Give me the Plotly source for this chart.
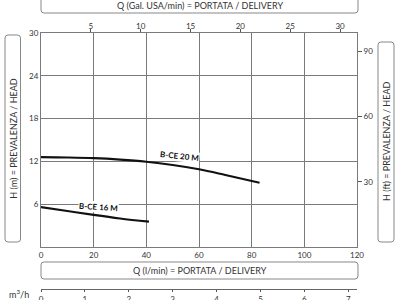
import plotly.graph_objects as go

# ---- data ----
q20 = [0, 10, 20, 30, 40, 50, 60, 70, 83]
h20 = [12.6, 12.55, 12.45, 12.25, 11.95, 11.5, 10.9, 10.1, 9.0]
q16 = [0, 10, 20, 30, 41]
h16 = [5.6, 5.05, 4.5, 4.0, 3.55]
lab20 = "B-CE 20 M"
lab16 = "B-CE 16 M"

x_ticks = [0, 20, 40, 60, 80, 100, 120]
y_ticks = [6, 12, 18, 24, 30]
gal_ticks = [5, 10, 15, 20, 25, 30]
ft_ticks = [30, 60, 90]
m3h_ticks = [0, 1, 2, 3, 4, 5, 6, 7]

# ---- layout geometry (pixels) ----
W, H = 400, 300
L, R, T, B = 41, 43, 33, 11
pw = W - L - R
ph = H - T - B
def px(x): return (x - L) / pw
def py(y): return (H - B - y) / ph
YBOT = 247
ydom0 = py(YBOT)

FONT = "Lato"
GRID = "#7a7a7a"
TXT = "#333333"

def rbox(x0, y0, x1, y1, r=3):
    pts = [
        ("M", [(x0 + r, y0)]),
        ("L", [(x1 - r, y0)]),
        ("Q", [(x1, y0), (x1, y0 + r)]),
        ("L", [(x1, y1 - r)]),
        ("Q", [(x1, y1), (x1 - r, y1)]),
        ("L", [(x0 + r, y1)]),
        ("Q", [(x0, y1), (x0, y1 - r)]),
        ("L", [(x0, y0 + r)]),
        ("Q", [(x0, y0), (x0 + r, y0)]),
    ]
    s = ""
    for cmd, ps in pts:
        s += cmd + " ".join(f"{px(a):.5f},{py(b):.5f}" for a, b in ps) + " "
    return s + "Z"

fig = go.Figure()
fig.add_trace(go.Scatter(x=q20, y=h20, mode="lines", line=dict(color="#111", width=2.2, shape="spline"),
                         hoverinfo="skip", showlegend=False))
fig.add_trace(go.Scatter(x=q16, y=h16, mode="lines", line=dict(color="#111", width=2.2, shape="spline"),
                         hoverinfo="skip", showlegend=False))
# dummy traces so that secondary axes are drawn
fig.add_trace(go.Scatter(x=[0], y=[0], xaxis="x2", yaxis="y2", mode="markers",
                         marker=dict(opacity=0), hoverinfo="skip", showlegend=False))
fig.add_trace(go.Scatter(x=[0], y=[0], xaxis="x3", yaxis="y", mode="markers",
                         marker=dict(opacity=0), hoverinfo="skip", showlegend=False))

tf = dict(family=FONT, size=8, color=TXT)
fig.update_layout(
    width=W, height=H,
    margin=dict(l=L, r=R, t=T, b=B, autoexpand=False),
    paper_bgcolor="white", plot_bgcolor="white",
    font=dict(family=FONT, color=TXT),
    xaxis=dict(range=[0, 120], tickvals=x_ticks, showgrid=True, gridcolor=GRID, gridwidth=1,
               showline=True, linecolor=GRID, linewidth=1, mirror=True, ticks="",
               zeroline=False, anchor="y", tickfont=tf, fixedrange=True, automargin=False),
    yaxis=dict(domain=[ydom0, 1], range=[0, 30], tickvals=y_ticks, showgrid=True, gridcolor=GRID,
               gridwidth=1, showline=True, linecolor=GRID, linewidth=1, mirror=True, ticks="",
               zeroline=False, anchor="x", tickfont=tf, fixedrange=True, automargin=False),
    xaxis2=dict(overlaying="x", side="top", anchor="y", range=[0, 120 / 3.785411784],
                tickvals=gal_ticks, ticks="outside", ticklen=3, tickcolor="#555",
                ticklabelstandoff=-3,
                showgrid=False, showline=False, zeroline=False, tickfont=tf, fixedrange=True,
                automargin=False),
    yaxis2=dict(overlaying="y", side="right", anchor="x", range=[0, 30 * 3.28084],
                tickvals=ft_ticks, ticks="outside", ticklen=4, tickcolor="#555",
                showgrid=False, showline=False, zeroline=False, tickfont=tf, fixedrange=True,
                automargin=False),
    xaxis3=dict(overlaying="x", anchor="free", position=0, range=[0, 7.2],
                tickvals=m3h_ticks, ticks="outside", ticklen=2, tickcolor="#555",
                showline=True, linecolor="#666", linewidth=1, showgrid=False, zeroline=False,
                tickfont=tf, fixedrange=True, automargin=False),
)

box_line = dict(color="#888", width=1)
shapes = [
    dict(type="path", xref="paper", yref="paper", path=rbox(41, -6, 358, 13), line=box_line),
    dict(type="path", xref="paper", yref="paper", path=rbox(41, 262, 358, 279), line=box_line),
    dict(type="path", xref="paper", yref="paper", path=rbox(5, 35, 20.5, 242), line=box_line),
    dict(type="path", xref="paper", yref="paper", path=rbox(378, 42, 394, 242), line=box_line),
]
fig.update_layout(shapes=shapes)

tfont = dict(family=FONT, size=9, color=TXT)
ann = [
    dict(text="Q (Gal. USA/min) = PORTATA / DELIVERY", x=px(199.5), y=py(5.5), font=tfont),
    dict(text="Q (l/min) = PORTATA / DELIVERY", x=px(199.5), y=py(270.5), font=tfont),
    dict(text="H (m) = PREVALENZA / HEAD", x=px(12.8), y=py(138), textangle=-90, font=tfont),
    dict(text="H (ft) = PREVALENZA / HEAD", x=px(386), y=py(142), textangle=-90, font=tfont),
    dict(text="m<sup>3</sup>/h", x=px(19), y=py(294), font=tfont),
]
for a in ann:
    a.update(xref="paper", yref="paper", showarrow=False, xanchor="center", yanchor="middle")
labfont = dict(family=FONT, size=8, color="#111", weight="bold")
ann += [
    dict(text="<b>" + lab20 + "</b>", x=52.5, y=12.75, xref="x", yref="y", showarrow=False,
         textangle=6, font=labfont, bgcolor="white", borderpad=0),
    dict(text="<b>" + lab16 + "</b>", x=21.8, y=5.6, xref="x", yref="y", showarrow=False,
         textangle=4, font=labfont, bgcolor="white", borderpad=0),
]
fig.update_layout(annotations=ann)

fig.write_html("out.html")
